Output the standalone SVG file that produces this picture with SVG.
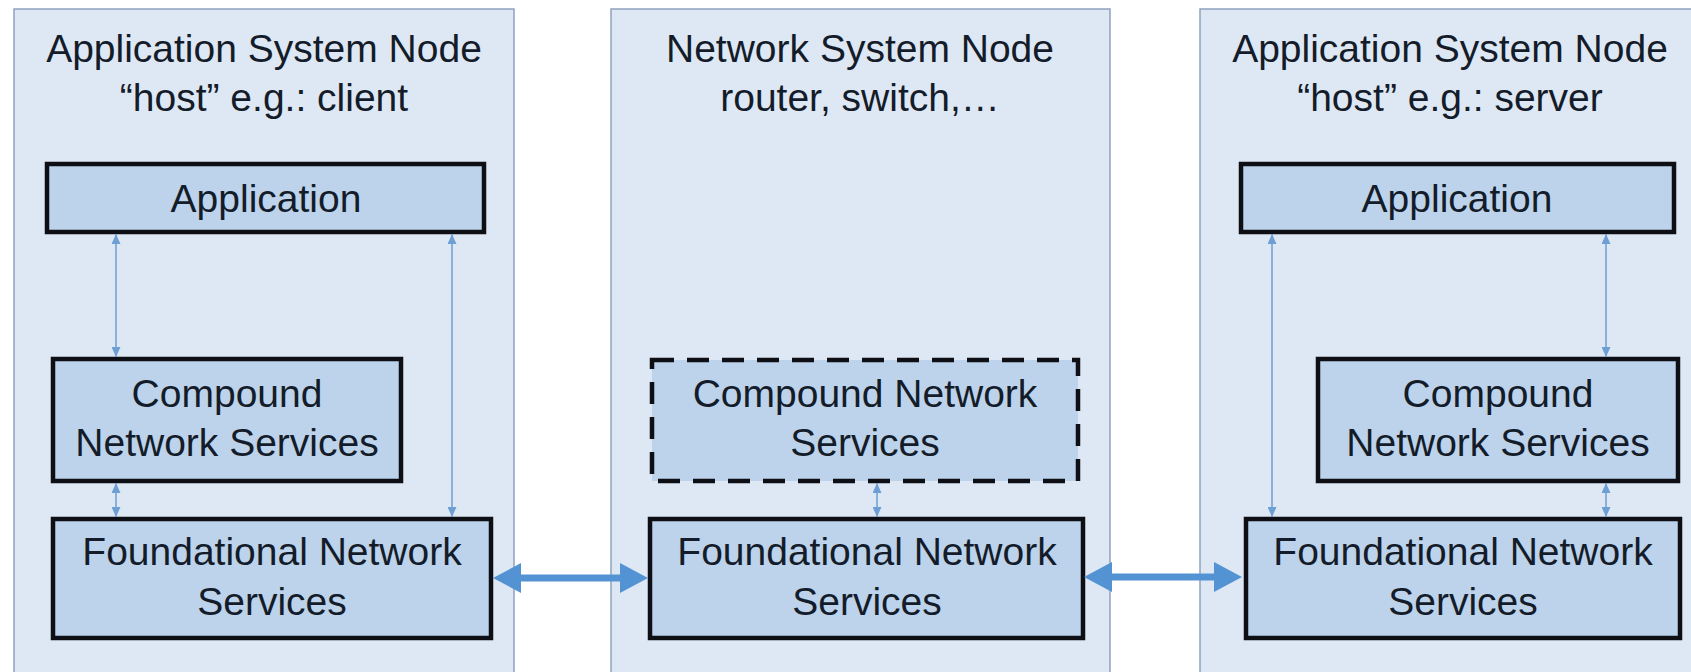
<svg xmlns="http://www.w3.org/2000/svg" width="1691" height="672" viewBox="0 0 1691 672">
  <style>
    .container { fill: #DEE8F4; stroke: #8FA3BD; stroke-width: 1.5; }
    .box { fill: #BCD3EB; stroke: #0E0F14; stroke-width: 4.5; }
    .dashed { stroke-dasharray: 22 13; }
    text { font-family: "Liberation Sans", Arial, sans-serif; font-size: 39px; fill: #141C2A; text-anchor: middle; }
    .thin { stroke: #6E9FD4; stroke-width: 1.5; fill: none; }
    .thick { stroke: #5493D3; stroke-width: 7; fill: none; }
  </style>
  <defs>
    <marker id="thinHead" markerUnits="userSpaceOnUse" markerWidth="10" markerHeight="9" refX="10" refY="4.5" orient="auto-start-reverse" viewBox="0 0 10 9">
      <path d="M0,0 L10,4.5 L0,9 Z" fill="#6E9FD4"/>
    </marker>
    <marker id="thickHead" markerUnits="userSpaceOnUse" markerWidth="28" markerHeight="30" refX="4" refY="15" orient="auto-start-reverse" viewBox="0 0 28 30">
      <path d="M0,0 L28,15 L0,30 Z" fill="#5493D3"/>
    </marker>
  </defs>
  <rect width="1691" height="672" fill="#FFFFFF"/>

  <g id="client-node">
    <rect class="container" x="14" y="9" width="500" height="680"/>
    <text x="264" y="62">Application System Node</text>
    <text x="264" y="111">“host” e.g.: client</text>
  </g>
  <g id="client-application">
    <rect class="box" x="47" y="164" width="437" height="68"/>
    <text x="266" y="212">Application</text>
  </g>
  <g id="client-compound">
    <rect class="box" x="53" y="359" width="348" height="122"/>
    <text x="227" y="407">Compound</text>
    <text x="227" y="456">Network Services</text>
  </g>
  <g id="client-foundational">
    <rect class="box" x="53" y="519" width="438" height="119"/>
    <text x="272" y="565">Foundational Network</text>
    <text x="272" y="615">Services</text>
  </g>

  <g id="network-node">
    <rect class="container" x="611" y="9" width="499" height="680"/>
    <text x="860" y="62">Network System Node</text>
    <text x="860" y="111">router, switch,…</text>
  </g>
  <g id="network-compound">
    <rect class="box dashed" x="652" y="360" width="426" height="121"/>
    <text x="865" y="407">Compound Network</text>
    <text x="865" y="456">Services</text>
  </g>
  <g id="network-foundational">
    <rect class="box" x="650" y="519" width="433" height="119"/>
    <text x="867" y="565">Foundational Network</text>
    <text x="867" y="615">Services</text>
  </g>

  <g id="server-node">
    <rect class="container" x="1200" y="9" width="500" height="680"/>
    <text x="1450" y="62">Application System Node</text>
    <text x="1450" y="111">“host” e.g.: server</text>
  </g>
  <g id="server-application">
    <rect class="box" x="1241" y="164" width="433" height="68"/>
    <text x="1457" y="212">Application</text>
  </g>
  <g id="server-compound">
    <rect class="box" x="1318" y="359" width="360" height="122"/>
    <text x="1498" y="407">Compound</text>
    <text x="1498" y="456">Network Services</text>
  </g>
  <g id="server-foundational">
    <rect class="box" x="1246" y="519" width="434" height="119"/>
    <text x="1463" y="565">Foundational Network</text>
    <text x="1463" y="615">Services</text>
  </g>

  <g id="connectors">
    <line class="thin" x1="116" y1="234" x2="116" y2="357" marker-start="url(#thinHead)" marker-end="url(#thinHead)"/>
    <line class="thin" x1="116" y1="483" x2="116" y2="517" marker-start="url(#thinHead)" marker-end="url(#thinHead)"/>
    <line class="thin" x1="452" y1="234" x2="452" y2="517" marker-start="url(#thinHead)" marker-end="url(#thinHead)"/>
    <line class="thin" x1="877" y1="483" x2="877" y2="517" marker-start="url(#thinHead)" marker-end="url(#thinHead)"/>
    <line class="thin" x1="1272" y1="234" x2="1272" y2="517" marker-start="url(#thinHead)" marker-end="url(#thinHead)"/>
    <line class="thin" x1="1606" y1="234" x2="1606" y2="357" marker-start="url(#thinHead)" marker-end="url(#thinHead)"/>
    <line class="thin" x1="1606" y1="483" x2="1606" y2="517" marker-start="url(#thinHead)" marker-end="url(#thinHead)"/>
    <line class="thick" x1="517" y1="578" x2="624" y2="578" marker-start="url(#thickHead)" marker-end="url(#thickHead)"/>
    <line class="thick" x1="1108" y1="577" x2="1218" y2="577" marker-start="url(#thickHead)" marker-end="url(#thickHead)"/>
  </g>
</svg>
